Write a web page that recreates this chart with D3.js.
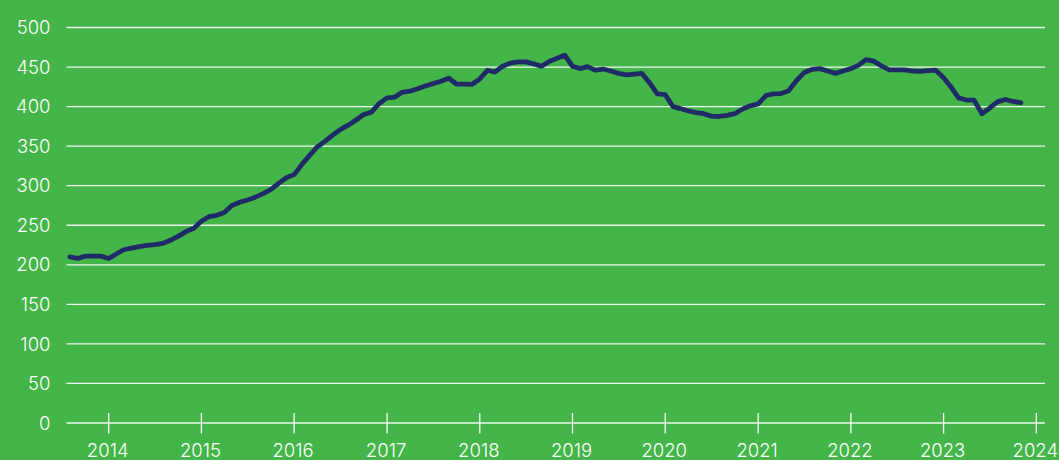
<!DOCTYPE html>
<html>
<head>
<meta charset="utf-8">
<script src="https://cdn.jsdelivr.net/npm/d3@7"></script>
<style>
  html, body { margin: 0; padding: 0; background: #44b549; }
  svg text { font-family: Inter, Lato, sans-serif; font-weight: 300; fill: #ffffff; }
</style>
</head>
<body>
<svg id="chart"></svg>
<script>
// monthly series, first point Aug 2013
const startYear = 2013;
const startMonth = 7; // 0-based, August
const values = [
  210, 208, 211, 211, 211,
  208, 214, 219, 221, 223, 224.5, 225.5, 227, 231, 236, 242, 246,
  255, 261, 262.5, 266, 275, 279, 282, 285.5, 290, 295, 303, 310,
  314, 327, 338, 349, 356, 364, 371, 376.5, 383, 390, 393, 404,
  411, 412, 418, 419.5, 422.5, 426, 429, 432, 436, 428.6, 428.5, 428,
  435, 446, 443.5, 451, 455, 456.5, 456.5, 454, 451, 457, 461, 465,
  451, 448, 450.5, 446, 447.5, 445, 442, 440, 441, 442, 430, 416,
  415, 400, 397.5, 394.5, 392.5, 391, 388, 387.5, 389, 391, 397, 401,
  403.5, 414, 416, 416.5, 420, 433, 443, 447, 448, 445, 442, 445,
  448, 452.5, 459.5, 457.5, 451.5, 446.5, 446.5, 446.5, 445, 444.5, 445.5, 446,
  436.5, 424, 411, 408.3, 408.2, 391, 398, 406, 409, 406.5, 405
];
const yTicks = [0, 50, 100, 150, 200, 250, 300, 350, 400, 450, 500];
const xTickYears = [2014, 2015, 2016, 2017, 2018, 2019, 2020, 2021, 2022, 2023, 2024];

const data = values.map((v, i) => ({ date: new Date(startYear, startMonth + i, 1), value: v }));

/* chart setup */
const W = 1059, H = 460;
const plotLeft = 66.5, plotRight = 1045;

const svg = d3.select("#chart").attr("width", W).attr("height", H);

svg.append("rect").attr("width", W).attr("height", H).attr("fill", "#44b549");

const xScale = d3.scaleTime()
  .domain([new Date(2014, 0, 1), new Date(2024, 0, 1)])
  .range([108.7, 1036.3]);

const yScale = d3.scaleLinear()
  .domain([0, 500])
  .range([423, 27.5]);

// horizontal gridlines + y labels
const grid = svg.append("g");
grid.selectAll("line")
  .data(yTicks)
  .enter()
  .append("line")
  .attr("x1", plotLeft)
  .attr("x2", plotRight)
  .attr("y1", d => yScale(d))
  .attr("y2", d => yScale(d))
  .attr("stroke", "#ffffff")
  .attr("stroke-opacity", 0.9)
  .attr("stroke-width", 1.3);

grid.selectAll("text")
  .data(yTicks)
  .enter()
  .append("text")
  .attr("x", 50.5)
  .attr("y", d => yScale(d))
  .attr("dy", "0.36em")
  .attr("text-anchor", "end")
  .attr("font-size", "18.5px")
  .text(d => d);

// x axis ticks and year labels
const xAxis = svg.append("g");
xAxis.selectAll("line")
  .data(xTickYears)
  .enter()
  .append("line")
  .attr("x1", d => xScale(new Date(d, 0, 1)))
  .attr("x2", d => xScale(new Date(d, 0, 1)))
  .attr("y1", 413)
  .attr("y2", 433.5)
  .attr("stroke", "#ffffff")
  .attr("stroke-width", 1.3);

xAxis.selectAll("text")
  .data(xTickYears)
  .enter()
  .append("text")
  .attr("x", d => xScale(new Date(d, 0, 1)) - 1)
  .attr("y", 456.5)
  .attr("text-anchor", "middle")
  .attr("font-size", "18.5px")
  .text(d => d);

// the series line
const line = d3.line()
  .x(d => xScale(d.date))
  .y(d => yScale(d.value));

svg.append("path")
  .datum(data)
  .attr("d", line)
  .attr("fill", "none")
  .attr("stroke", "#1f2b66")
  .attr("stroke-width", 4.8)
  .attr("stroke-linejoin", "round")
  .attr("stroke-linecap", "round");
</script>
</body>
</html>
